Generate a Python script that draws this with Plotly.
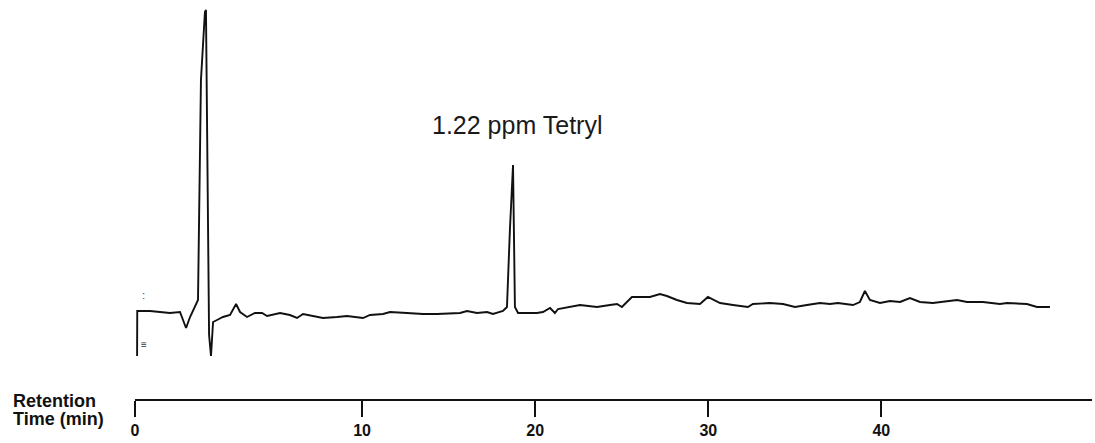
import plotly.graph_objects as go

# Retention time (min) and detector response (arbitrary units)
time_min = [-3.00, -2.99, -2.25, -1.10, -0.52, -0.17, 0.06, 0.35, 0.52, 0.69, 0.92, 0.98,
            1.04, 1.10, 1.16, 1.27, 1.39, 1.62, 1.96, 2.37, 2.72, 2.95, 3.35, 3.81, 4.22,
            4.51, 5.26, 5.83, 6.24, 6.59, 7.16, 7.74, 8.55, 9.13, 10.05, 10.46, 11.21,
            11.61, 12.59, 13.52, 14.33, 15.66, 16.06, 16.64, 17.22, 17.56, 18.14, 18.37,
            18.54, 18.72, 18.83, 19.01, 19.53, 20.10, 20.45, 20.86, 21.14, 21.32, 22.59,
            23.57, 24.32, 24.73, 25.01, 25.59, 26.63, 27.21, 27.61, 28.19, 28.77, 29.52,
            29.98, 30.68, 31.43, 32.29, 32.58, 33.56, 34.32, 35.01, 35.70, 36.45, 37.03,
            37.49, 38.36, 38.76, 39.05, 39.34, 39.92, 40.50, 41.08, 41.65, 42.23, 42.98,
            44.37, 44.95, 45.87, 46.85, 47.26, 48.41, 48.99, 49.74]
signal = [-4.4, 0.1, 0.1, -0.1, 0.0, -1.6, -0.5, 0.5, 1.2, 23.2, 30.0, 30.2,
          19.2, 11.2, -2.3, -4.4, -1.0, -0.8, -0.5, -0.3, 0.8, 0.0, -0.5, -0.1, -0.1,
          -0.4, -0.1, -0.3, -0.6, -0.2, -0.4, -0.6, -0.5, -0.4, -0.6, -0.3, -0.2,
          0.0, -0.1, -0.2, -0.2, -0.1, 0.1, -0.1, 0.0, -0.2, 0.1, 0.5,
          8.2, 14.7, 0.5, -0.1, -0.1, -0.1, 0.0, 0.4, -0.1, 0.3, 0.7,
          0.5, 0.7, 0.8, 0.5, 1.5, 1.5, 1.8, 1.6, 1.2, 0.9, 0.8,
          1.5, 0.9, 0.7, 0.5, 0.8, 0.9, 0.8, 0.5, 0.7, 0.9, 0.8,
          0.9, 0.7, 1.0, 2.1, 1.2, 0.9, 1.1, 1.0, 1.4, 1.0, 0.9,
          1.2, 1.0, 1.0, 0.8, 0.9, 0.8, 0.5, 0.5]

tick_vals = [-3.12, 10, 20, 30, 40]
tick_text = ["0", "10", "20", "30", "40"]

peak_label = "1.22 ppm Tetryl"
peak_label_pos = (18.95, 18.7)

# small polarity marks beside the injection step
marks = [":", "≡"]
marks_t = [-2.62, -2.60]
marks_s = [1.6, -3.3]

FONT = "Liberation Sans, Arial, sans-serif"

fig = go.Figure()
fig.add_trace(go.Scatter(
    x=time_min, y=signal, mode="lines",
    line=dict(color="#111111", width=1.9),
    showlegend=False, hoverinfo="skip",
))

fig.add_trace(go.Scatter(
    x=marks_t, y=marks_s, mode="text", text=marks,
    textfont=dict(family=FONT, size=10, color="#333333"),
    showlegend=False, hoverinfo="skip",
))

fig.add_annotation(
    x=peak_label_pos[0], y=peak_label_pos[1], xref="x", yref="y",
    text=peak_label, showarrow=False,
    font=dict(family=FONT, size=25, color="#1a1a1a"),
)
fig.add_annotation(
    x=-0.130, y=-0.004, xref="paper", yref="paper", xanchor="left", yanchor="middle",
    text="<b>Retention</b>", showarrow=False,
    font=dict(family=FONT, size=18, color="#111111"),
)
fig.add_annotation(
    x=-0.130, y=-0.050, xref="paper", yref="paper", xanchor="left", yanchor="middle",
    text="<b>Time (min)</b>", showarrow=False,
    font=dict(family=FONT, size=18, color="#111111"),
)

fig.update_layout(
    width=1095, height=443,
    margin=dict(l=135, r=3, t=0, b=44),
    paper_bgcolor="white", plot_bgcolor="white",
    xaxis=dict(
        range=[-3.12, 52.17], showgrid=False, zeroline=False,
        showline=True, linecolor="#111111", linewidth=2,
        ticks="outside", ticklen=16, tickwidth=1.5, tickcolor="#111111",
        tickvals=tick_vals, ticktext=tick_text,
        tickfont=dict(family=FONT, size=16, color="#111111", weight="bold"),
    ),
    yaxis=dict(range=[-8.7, 31.2], visible=False),
)

fig.write_html("out.html")
